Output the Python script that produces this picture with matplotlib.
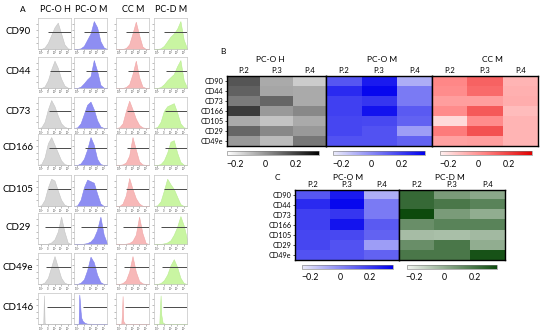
import numpy as np
import matplotlib
matplotlib.use('Agg')
import matplotlib.pyplot as plt
from matplotlib.colors import LinearSegmentedColormap, Normalize
from matplotlib.colorbar import ColorbarBase

plt.rcParams['font.family'] = ['Lato', 'DejaVu Sans']

W, H = 550, 330

# ---- panel A : histograms (heights, 11 bins across the box)
markers_a = ['CD90', 'CD44', 'CD73', 'CD166', 'CD105', 'CD29', 'CD49e', 'CD146']
groups_a = ['PC-O H', 'PC-O M', 'CC M', 'PC-D M']
hist_x = [0, 0.1, 0.2, 0.3, 0.4, 0.5, 0.6, 0.7, 0.8, 0.9, 1.0]
cd146_x = [0, 0.14, 0.16, 0.18, 0.2, 0.22, 0.26, 0.32, 0.4, 1.0]

cd90 = [[0, 0, 0.05, 0.2, 0.45, 0.7, 0.85, 0.5, 0.15, 0.02, 0],
        [0, 0, 0.02, 0.1, 0.3, 0.5, 0.9, 0.7, 0.25, 0.05, 0],
        [0, 0, 0, 0.03, 0.15, 0.5, 0.88, 0.45, 0.08, 0, 0],
        [0, 0, 0.02, 0.1, 0.25, 0.4, 0.5, 0.65, 0.9, 0.3, 0.02]]
cd44 = [[0, 0, 0.05, 0.25, 0.6, 0.88, 0.65, 0.3, 0.08, 0.01, 0],
        [0, 0, 0.04, 0.15, 0.28, 0.38, 0.9, 0.55, 0.1, 0.01, 0],
        [0, 0, 0, 0.03, 0.12, 0.45, 0.88, 0.35, 0.05, 0, 0],
        [0, 0, 0.03, 0.12, 0.25, 0.35, 0.45, 0.7, 0.9, 0.25, 0.02]]
cd73 = [[0, 0.02, 0.2, 0.6, 0.9, 0.7, 0.4, 0.15, 0.04, 0, 0],
        [0, 0.02, 0.15, 0.45, 0.75, 0.85, 0.6, 0.25, 0.05, 0, 0],
        [0, 0.02, 0.15, 0.55, 0.88, 0.6, 0.3, 0.1, 0.02, 0, 0],
        [0, 0.03, 0.2, 0.55, 0.7, 0.75, 0.8, 0.5, 0.15, 0.02, 0]]
cd166 = [[0, 0.03, 0.25, 0.7, 0.9, 0.65, 0.4, 0.15, 0.03, 0, 0],
         [0, 0, 0.05, 0.2, 0.5, 0.9, 0.65, 0.2, 0.03, 0, 0],
         [0, 0, 0.02, 0.08, 0.3, 0.9, 0.5, 0.12, 0.02, 0, 0],
         [0, 0, 0.03, 0.15, 0.4, 0.75, 0.8, 0.4, 0.1, 0.01, 0]]
cd105 = [[0, 0.02, 0.2, 0.6, 0.88, 0.82, 0.5, 0.2, 0.04, 0, 0],
         [0, 0.02, 0.2, 0.6, 0.85, 0.8, 0.75, 0.4, 0.08, 0, 0],
         [0, 0, 0.08, 0.35, 0.9, 0.55, 0.25, 0.08, 0.01, 0, 0],
         [0, 0.02, 0.15, 0.5, 0.88, 0.7, 0.55, 0.3, 0.06, 0, 0]]
cd29 = [[0, 0, 0, 0.01, 0.05, 0.15, 0.4, 0.88, 0.4, 0.05, 0],
        [0, 0, 0, 0.01, 0.03, 0.08, 0.2, 0.45, 0.88, 0.3, 0.02],
        [0, 0, 0, 0.01, 0.03, 0.1, 0.3, 0.88, 0.35, 0.03, 0],
        [0, 0, 0, 0.02, 0.05, 0.12, 0.3, 0.55, 0.9, 0.6, 0.15]]
cd49e = [[0, 0, 0.05, 0.2, 0.55, 0.9, 0.55, 0.2, 0.04, 0, 0],
         [0, 0, 0.04, 0.15, 0.45, 0.88, 0.7, 0.3, 0.06, 0, 0],
         [0, 0, 0.03, 0.12, 0.4, 0.9, 0.4, 0.1, 0.02, 0, 0],
         [0, 0, 0.03, 0.12, 0.3, 0.6, 0.8, 0.55, 0.2, 0.03, 0]]
cd146 = [[0, 0, 0.02, 0.92, 0.05, 0, 0, 0, 0, 0],
         [0, 0, 0.95, 0.7, 0.4, 0.2, 0.1, 0.04, 0.01, 0],
         [0, 0, 0, 0.3, 0.9, 0.1, 0.02, 0, 0, 0],
         [0, 0, 0, 0.5, 0.92, 0.3, 0.05, 0.01, 0, 0]]
hists = [cd90, cd44, cd73, cd166, cd105, cd29, cd49e, cd146]
gate_start = [0.3, 0.35, 0.33, 0.33, 0.3, 0.22, 0.25, 0.28]

hist_fill = ['#d6d6d6', '#8e8ef2', '#f7b8b8', '#c9f5a2']
hist_edge = ['#c4c4c4', '#8080ec', '#f0a6a6', '#b8ec90']

# ---- panels B and C : heatmaps, rows = markers, cols = passages
markers_hm = ['CD90', 'CD44', 'CD73', 'CD166', 'CD105', 'CD29', 'CD49e']
passages = ['P.2', 'P.3', 'P.4']
pco_h = [[0.15, -0.05, -0.13], [0.12, -0.04, -0.05], [0.06, 0.11, -0.05],
         [0.21, -0.01, 0.03], [-0.05, -0.11, -0.05], [0.11, 0.03, -0.01],
         [-0.01, -0.09, 0.07]]
pco_m = [[0.13, 0.28, -0.09], [0.24, 0.33, 0.04], [0.185, 0.21, 0.04],
         [0.185, 0.30, 0.12], [0.17, 0.165, 0.10], [0.17, 0.14, -0.05],
         [0.14, 0.14, 0.10]]
cc_m = [[0.03, 0.12, -0.09], [0.015, 0.10, -0.08], [-0.03, -0.03, -0.07],
        [0.015, 0.14, -0.11], [-0.19, 0.015, -0.09], [0.06, 0.16, -0.09],
        [-0.04, -0.03, -0.09]]
pcd_m = [[0.24, 0.065, 0.02], [0.24, 0.19, 0.15], [0.35, 0.065, 0.005],
         [0.11, 0.15, 0.15], [-0.05, -0.06, -0.04], [0.11, 0.19, 0.005],
         [0.19, 0.19, 0.32]]
cbar_ticks = [-0.2, 0, 0.2]
cbar_labels = ['\u22120.2', '0', '0.2']
VMIN, VMAX = -0.25, 0.35

cm_gray = LinearSegmentedColormap.from_list('g', ['#ffffff', '#000000'])
cm_blue = LinearSegmentedColormap.from_list('b', ['#ececfa', '#0000ee'])
cm_red = LinearSegmentedColormap.from_list('r', ['#fff0f0', '#ff8080', '#e00000'])
cm_green = LinearSegmentedColormap.from_list('gr', ['#f3f6f1', '#0d4a0d'])


def box(x0, y0, x1, y1):
    return [x0 / W, 1 - y1 / H, (x1 - x0) / W, (y1 - y0) / H]


def label(x, y, s, size, **kw):
    fig.text(x / W, 1 - y / H, s, fontsize=size, ha=kw.pop('ha', 'center'),
             va=kw.pop('va', 'center'), **kw)


fig = plt.figure(figsize=(5.5, 3.3), dpi=100)

# panel A
col_left = [38, 74, 116, 154]
row_top = [18, 57, 97, 134, 175, 213, 253, 293]
label(23, 10, 'A', 6)
for j, g in enumerate(groups_a):
    label(col_left[j] + 17, 10, g, 6.5)
for i, m in enumerate(markers_a):
    label(18, row_top[i] + 14, m, 7)
    xs = cd146_x if m == 'CD146' else hist_x
    for j in range(4):
        ax = fig.add_axes(box(col_left[j], row_top[i], col_left[j] + 33, row_top[i] + 31))
        ax.fill_between(xs, hists[i][j], color=hist_fill[j], edgecolor=hist_edge[j], lw=0.4)
        ax.hlines(0.55, gate_start[i], 1, color='#4a4a4a', lw=0.7)
        ax.set_xlim(0, 1)
        ax.set_ylim(0, 1)
        for s in ax.spines.values():
            s.set_color('#c4c4c4')
            s.set_linewidth(0.5)
        ax.set_xticks([0.1, 0.3, 0.5, 0.7, 0.9])
        ax.set_xticklabels(['-10\u00b3', '0', '10\u00b3', '10\u2074', '10\u2075'])
        ax.set_yticks([0.2, 0.4, 0.6, 0.8])
        ax.set_yticklabels([])
        ax.tick_params(length=1.2, width=0.4, color='#888888', labelsize=1.8,
                       pad=0.6, labelcolor='#444444')


def heat(rect, vals, cmap, title, tx, ty, ylabels=False, lsize=5.2):
    ax = fig.add_axes(rect)
    ax.imshow(vals, cmap=cmap, vmin=VMIN, vmax=VMAX, aspect='auto',
              interpolation='nearest')
    ax.xaxis.tick_top()
    ax.set_xticks(range(3))
    ax.set_xticklabels(passages, fontsize=5.5)
    ax.tick_params(axis='x', length=0, pad=1.2)
    if ylabels:
        ax.set_yticks(range(7))
        ax.set_yticklabels(markers_hm, fontsize=lsize)
        ax.tick_params(axis='y', length=1.5, width=0.5, pad=1)
    else:
        ax.set_yticks([])
    for s in ax.spines.values():
        s.set_linewidth(1.0)
        s.set_color('black')
    label(tx, ty, title, 6)


def cbar(rect, cmap, pad):
    cax = fig.add_axes(rect)
    cb = ColorbarBase(cax, cmap=cmap, norm=Normalize(VMIN, VMAX),
                      orientation='horizontal', ticks=cbar_ticks)
    cb.ax.set_xticklabels(cbar_labels, fontsize=6.3)
    cb.ax.tick_params(length=0, pad=pad)
    cb.outline.set_linewidth(0.4)
    cb.outline.set_edgecolor('#777777')


# panel B
label(223, 51, 'B', 6)
heat(box(227, 76, 326, 146), pco_h, cm_gray, 'PC-O H', 270, 59, ylabels=True)
heat(box(326, 76, 432, 146), pco_m, cm_blue, 'PC-O M', 382, 59)
heat(box(432, 76, 538, 146), cc_m, cm_red, 'CC M', 492, 59)
cbar(box(227, 151, 319, 155), cm_gray, 3.5)
cbar(box(333, 151, 425, 155), cm_blue, 3.5)
cbar(box(440, 151, 532, 155), cm_red, 3.5)

# panel C
label(277, 178, 'C', 6)
heat(box(295, 190, 399, 260), pco_m, cm_blue, 'PC-O M', 348, 177, ylabels=True)
heat(box(399, 190, 505, 260), pcd_m, cm_green, 'PC-D M', 450, 177)
cbar(box(302, 265, 393, 269), cm_blue, 3)
cbar(box(407, 265, 497, 269), cm_green, 3)

fig.savefig('out.png', dpi=100)
